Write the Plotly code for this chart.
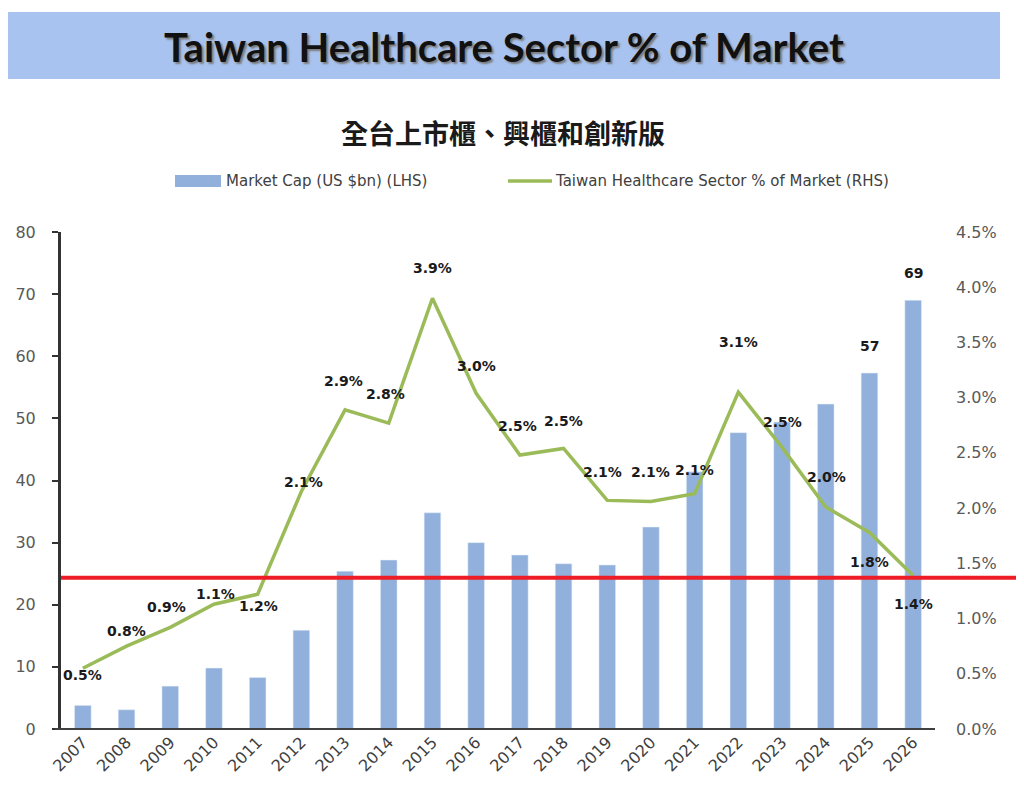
import plotly.graph_objects as go

# data
years = [str(y) for y in range(2007, 2027)]
market_cap = [3.8, 3.1, 6.9, 9.8, 8.3, 15.9, 25.4, 27.2, 34.8, 30.0,
              28.0, 26.6, 26.4, 32.5, 41.4, 47.7, 49.4, 52.3, 57.3, 69.0]
sector_pct = [0.55, 0.75, 0.92, 1.13, 1.22, 2.15, 2.89, 2.77, 3.90, 3.04,
              2.48, 2.54, 2.07, 2.06, 2.13, 3.05, 2.55, 2.01, 1.78, 1.39]
pct_labels = ['0.5%', '0.8%', '0.9%', '1.1%', '1.2%', '2.1%', '2.9%', '2.8%', '3.9%', '3.0%',
              '2.5%', '2.5%', '2.1%', '2.1%', '2.1%', '3.1%', '2.5%', '2.0%', '1.8%', '1.4%']
cap_labels = {'2025': '57', '2026': '69'}
threshold_pct = 1.37

left_ticks = [0, 10, 20, 30, 40, 50, 60, 70, 80]
right_ticks = [0, 0.5, 1.0, 1.5, 2.0, 2.5, 3.0, 3.5, 4.0, 4.5]

bar_name = 'Market Cap (US $bn) (LHS)'
line_name = 'Taiwan Healthcare Sector % of Market (RHS)'

# label placement offsets (px) for the line labels
label_dx = [0, 0, -4, 2, 1, 2, -2, -3, 0, 0, -2, 0, -5, 0, 0, 0, 0, 1, 0, 0]
label_dy = [-7, 15, 20, 10, -12, 10, 29, 29, 30, 27, 29, 27, 28, 29, 24, 50, 25, 30, -30, -29]

BAR_COLOR = '#91b1dc'
LINE_COLOR = '#9bbb59'

# plot area as seen in the reference picture (page has an 8px body margin)
W, H, OFF = 1024, 799, 8
L, R, T, B = 61, 935, 232, 729


def px_x(p):
    return (p - L) / (R - L)


def px_y(p):
    return (B - p) / (B - T)


fig = go.Figure()

fig.add_trace(go.Bar(
    x=years, y=market_cap,
    name=bar_name,
    marker=dict(color=BAR_COLOR),
    yaxis='y',
))

fig.add_trace(go.Scatter(
    x=years, y=sector_pct,
    name=line_name,
    mode='lines',
    line=dict(color=LINE_COLOR, width=3.5),
    yaxis='y2',
))

label_font = dict(family='DejaVu Sans', size=14, color='#1a1a1a', weight='bold')

for i in range(len(years)):
    fig.add_annotation(
        x=i, y=sector_pct[i], xref='x', yref='y2',
        text=pct_labels[i], showarrow=False,
        xshift=label_dx[i], yshift=label_dy[i],
        font=label_font,
    )

for yr, txt in cap_labels.items():
    i = years.index(yr)
    fig.add_annotation(
        x=i, y=market_cap[i], xref='x', yref='y',
        text=txt, showarrow=False, yshift=27,
        font=label_font,
    )

# red reference line across the plot
fig.add_shape(
    type='line', xref='paper', yref='y2',
    x0=0, x1=px_x(1040), y0=threshold_pct, y1=threshold_pct,
    line=dict(color='#ee1c25', width=4),
    layer='above',
)

# bottom axis line starts a little left of the value axis
fig.add_shape(
    type='line', xref='paper', yref='paper',
    x0=px_x(55), x1=1, y0=0, y1=0,
    line=dict(color='#404040', width=2),
)

# title banner
fig.add_shape(
    type='rect', xref='paper', yref='paper',
    x0=px_x(4), x1=px_x(1000), y0=px_y(79), y1=px_y(12),
    fillcolor='#a8c3f0', line=dict(width=0), layer='below',
)
fig.add_annotation(
    x=px_x(504), y=px_y(47), xref='paper', yref='paper',
    xanchor='center', yanchor='middle',
    text='Taiwan Healthcare Sector % of Market', showarrow=False,
    font=dict(family='Lato, Open Sans, sans-serif', size=40, color='#111111',
              weight='bold', shadow='2px 2px 2px #7a7a7a'),
)
fig.add_annotation(
    x=px_x(503), y=px_y(133), xref='paper', yref='paper',
    xanchor='center', yanchor='middle',
    text='全台上市櫃、興櫃和創新版', showarrow=False,
    font=dict(family='Noto Sans CJK TC', size=27, color='#1a1a1a', weight='bold'),
)

# hand-drawn legend (wide swatches like the reference)
legend_font = dict(family='DejaVu Sans', size=15, color='#404040')
fig.add_shape(
    type='rect', xref='paper', yref='paper',
    x0=px_x(175), x1=px_x(221), y0=px_y(187), y1=px_y(175),
    fillcolor=BAR_COLOR, line=dict(width=0),
)
fig.add_annotation(
    x=px_x(224), y=px_y(181), xref='paper', yref='paper',
    xanchor='left', yanchor='middle', text=bar_name, showarrow=False,
    font=legend_font,
)
fig.add_shape(
    type='line', xref='paper', yref='paper',
    x0=px_x(508), x1=px_x(552), y0=px_y(181), y1=px_y(181),
    line=dict(color=LINE_COLOR, width=3.5),
)
fig.add_annotation(
    x=px_x(553), y=px_y(181), xref='paper', yref='paper',
    xanchor='left', yanchor='middle', text=line_name, showarrow=False,
    font=legend_font,
)

fig.update_layout(
    width=W, height=H,
    margin=dict(l=L - OFF, r=W - R + OFF, t=T - OFF, b=H - B + OFF, pad=0,
                autoexpand=False),
    plot_bgcolor='white', paper_bgcolor='white',
    bargap=0.62,
    font=dict(family='DejaVu Sans', color='#404040'),
    showlegend=False,
    xaxis=dict(
        type='category', range=[-0.5, len(years) - 0.5], tickangle=-45,
        tickfont=dict(family='DejaVu Sans', size=16, color='#404040'),
        showline=False, ticks='', showgrid=False, automargin=False,
    ),
    yaxis=dict(
        range=[0, 80], tickvals=left_ticks,
        tickfont=dict(size=16, color='#595959'),
        showline=True, linecolor='#333333', linewidth=3,
        ticks='outside', ticklen=6, tickcolor='#333333', tickwidth=2,
        ticklabelstandoff=13, automargin=False,
        showgrid=False, zeroline=False,
    ),
    yaxis2=dict(
        range=[0, 4.5], tickvals=right_ticks,
        ticktext=[f'{v:.1f}%' for v in right_ticks],
        overlaying='y', side='right',
        tickfont=dict(size=16, color='#595959'),
        showline=False, ticks='', ticklabelstandoff=20, automargin=False,
        showgrid=False, zeroline=False,
    ),
)

fig.write_html("out.html")
